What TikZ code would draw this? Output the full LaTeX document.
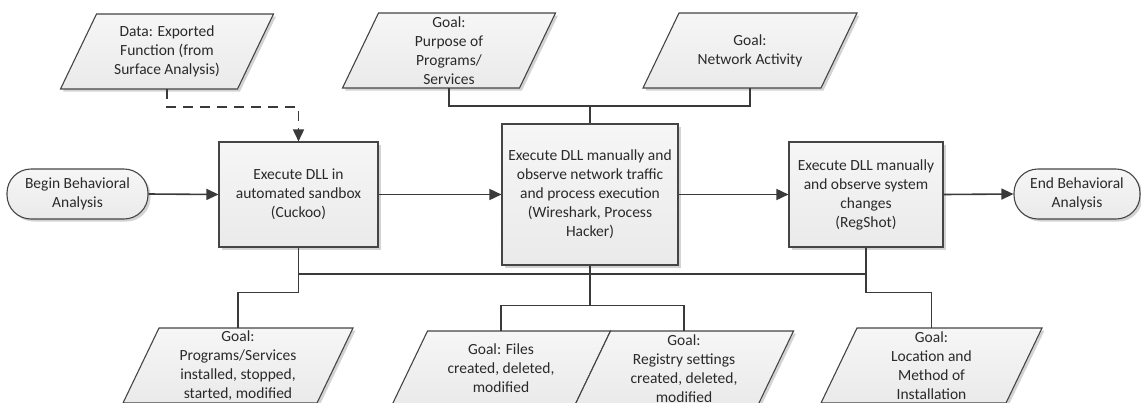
\documentclass[tikz,border=0pt]{standalone}
\usepackage{fontspec}
\setmainfont{Carlito}
\usetikzlibrary{arrows.meta,shadows,calc}
\definecolor{linec}{HTML}{3A3A3A}
\definecolor{boxc}{HTML}{454545}
\definecolor{filltop}{HTML}{F6F6F6}
\definecolor{fillbot}{HTML}{EAEAEA}
\definecolor{shad}{HTML}{C8C8C8}
\definecolor{txt}{HTML}{2A2A2A}
\tikzset{
  lbl/.style={font=\fontsize{15.5}{19}\selectfont, text=txt, align=center},
  proc/.style={lbl, draw=boxc, line width=1.1pt, top color=filltop, bottom color=fillbot,
    drop shadow={shadow xshift=2.5pt, shadow yshift=-2.5pt, fill=shad, opacity=0.8},
    inner sep=2pt},
  term/.style={proc, rounded corners=24pt, minimum height=50pt},
  ptext/.style={lbl, rectangle, minimum height=75pt, inner sep=0pt},
  conn/.style={draw=linec, line width=1.6pt},
  arr/.style={conn, -{Triangle[length=12pt,width=11pt]}},
  dasharr/.style={arr, dash pattern=on 10pt off 7pt},
}
\newcommand\pgram[5]{%
  \begin{scope}[shift={(#2,#3)}]
    \fill[shad, opacity=0.8] ({-#4/2+18+2.5},{-37.5+2.5}) -- ({#4/2+18+2.5},{-37.5+2.5})
      -- ({#4/2-18+2.5},{37.5+2.5}) -- ({-#4/2-18+2.5},{37.5+2.5}) -- cycle;
    \shadedraw[top color=filltop, bottom color=fillbot, draw=boxc, line width=1.1pt]
      ({-#4/2+18},-37.5) -- ({#4/2+18},-37.5) -- ({#4/2-18},37.5) -- ({-#4/2-18},37.5) -- cycle;
  \end{scope}
  \node[ptext, minimum width=#4] (#1) at (#2,#3) {#5};
}
\begin{document}
\begin{tikzpicture}[x=1pt, y=-1pt]
\useasboundingbox (0,0) rectangle (1141,402);

% top data / goal shapes
\pgram{data}{167}{51.5}{177}{Data: Exported\\Function (from\\Surface Analysis)}
\pgram{purpose}{449}{50.5}{177}{Goal:\\Purpose of\\Programs/\\Services}
\pgram{network}{750}{50.5}{178}{Goal:\\Network Activity}

% terminators
\node[term, minimum width=141pt] (begin) at (77.5,194) {Begin Behavioral\\Analysis};
\node[term, minimum width=126pt] (end) at (1077,194) {End Behavioral\\Analysis};

% process boxes
\node[proc, minimum width=159pt, minimum height=105pt] (c1) at (298.5,194.5)
  {Execute DLL in\\automated sandbox\\(Cuckoo)};
\node[proc, minimum width=176pt, minimum height=141pt] (c2) at (590,194.5)
  {Execute DLL manually and\\observe network traffic\\and process execution\\(Wireshark, Process\\Hacker)};
\node[proc, minimum width=154pt, minimum height=105pt] (c3) at (866,194.5)
  {Execute DLL manually\\and observe system\\changes\\(RegShot)};

% bottom goals
\pgram{g1}{238}{365.5}{194}{Goal:\\Programs/Services\\installed, stopped,\\started, modified}
\pgram{files}{501}{368.5}{183}{Goal: Files\\created, deleted,\\modified}
\pgram{reg}{684}{368.5}{183}{Goal:\\Registry settings\\created, deleted,\\modified}
\pgram{loc}{931.5}{365.5}{185}{Goal:\\Location and\\Method of\\Installation}

% coordinates
\coordinate (topbus) at (590,106);
\coordinate (busL) at (298.5,274);
\coordinate (busR) at (866,274);
\coordinate (midbus) at (590,305.5);

% main flow
\draw[arr] (begin.east) -- (c1.west);
\draw[arr] (c1.east) -- (c2.west);
\draw[arr] (c2.east) -- (c3.west);
\draw[arr] (c3.east) -- (end.west);

% data input
\draw[dasharr] (data.south) -- ++(0,18) -| (c1.north);

% top goals
\draw[conn] (purpose.south) |- (topbus) -| (network.south);
\draw[conn] (topbus) -- (c2.north);

% bottom goals
\draw[conn] (busL) -- (busR);
\draw[conn] (c1.south) -- ++(0,45) -| (g1.north);
\draw[conn] (c2.south) -- (midbus);
\draw[conn] (files.north) |- (midbus) -| (reg.north);
\draw[conn] (c3.south) -- ++(0,45) -| (loc.north);
\end{tikzpicture}
\end{document}
